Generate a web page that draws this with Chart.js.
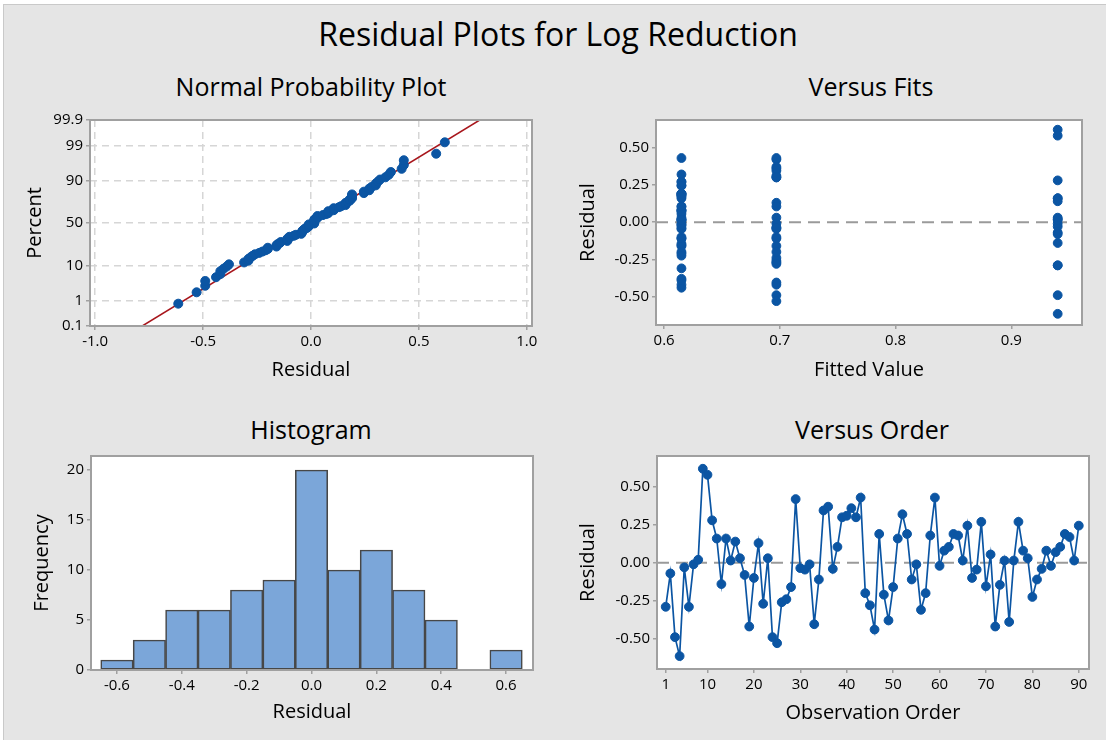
<!DOCTYPE html>
<html>
<head>
<meta charset="utf-8">
<script src="https://cdn.jsdelivr.net/npm/chart.js@4.4.0/dist/chart.umd.min.js"></script>
<style>
  html, body { margin: 0; padding: 0; background: #fff; }
  body { width: 1106px; height: 740px; position: relative; overflow: hidden; font-family: 'Open Sans', sans-serif; }
  #panel { position: absolute; left: 3px; top: 4px; right: 0; bottom: 0; background: #E5E5E5; border-left: 1px solid #c9c9c9; border-top: 1px solid #c9c9c9; }
  .ttl { position: absolute; text-align: center; color: #000; white-space: nowrap; font-weight: 500; }
  .sub { font-size: 25px; line-height: 34px; width: 400px; }
  canvas { position: absolute; }
</style>
</head>
<body>
<div id="panel"></div>
<div class="ttl" style="left:258px; width:600px; top:12px; font-size:32px; line-height:44px;">Residual Plots for Log Reduction</div>
<div class="ttl sub" style="left:111px; top:69px;">Normal Probability Plot</div>
<div class="ttl sub" style="left:671px; top:69px;">Versus Fits</div>
<div class="ttl sub" style="left:111px; top:412px;">Histogram</div>
<div class="ttl sub" style="left:672px; top:412px;">Versus Order</div>

<canvas id="npp" width="553" height="300" style="left:0; top:100px; width:553px; height:300px;"></canvas>
<canvas id="fits" width="553" height="300" style="left:553px; top:100px; width:553px; height:300px;"></canvas>
<canvas id="hist" width="553" height="300" style="left:0; top:440px; width:553px; height:300px;"></canvas>
<canvas id="order" width="553" height="300" style="left:553px; top:440px; width:553px; height:300px;"></canvas>

<script>
// residuals in observation order
const residuals = [
  -0.29, -0.07, -0.49, -0.615, -0.03, -0.29, -0.01, 0.02, 0.62, 0.58,
  0.28, 0.16, -0.14, 0.16, 0.015, 0.14, 0.03, -0.08, -0.42, -0.10,
  0.13, -0.27, 0.03, -0.49, -0.53, -0.26, -0.24, -0.16, 0.42, -0.035,
  -0.045, -0.01, -0.405, -0.11, 0.345, 0.37, -0.04, 0.105, 0.30, 0.31,
  0.36, 0.30, 0.43, -0.20, -0.28, -0.44, 0.19, -0.21, -0.38, -0.16,
  0.16, 0.32, 0.19, -0.11, -0.01, -0.31, -0.20, 0.18, 0.43, -0.02,
  0.08, 0.105, 0.19, 0.18, 0.015, 0.245, -0.10, -0.045, 0.27, -0.155,
  0.055, -0.42, -0.145, 0.015, -0.39, 0.015, 0.27, 0.08, 0.03, -0.225,
  -0.11, -0.04, 0.08, -0.02, 0.07, 0.105, 0.19, 0.17, 0.015, 0.245
];

const fittedValues = [
  0.940, 0.940, 0.940, 0.940, 0.940, 0.940, 0.940, 0.940, 0.940,
  0.940, 0.940, 0.940, 0.940, 0.940, 0.940, 0.940, 0.940, 0.940,
  0.697, 0.697, 0.697, 0.697, 0.697, 0.697, 0.697, 0.697, 0.697,
  0.697, 0.697, 0.697, 0.697, 0.697, 0.697, 0.697, 0.697, 0.697,
  0.697, 0.697, 0.697, 0.697, 0.697, 0.697, 0.697, 0.697, 0.697,
  0.615, 0.615, 0.615, 0.615, 0.615, 0.615, 0.615, 0.615, 0.615,
  0.615, 0.615, 0.615, 0.615, 0.615, 0.615, 0.615, 0.615, 0.615,
  0.615, 0.615, 0.615, 0.615, 0.615, 0.615, 0.615, 0.615, 0.615,
  0.615, 0.615, 0.615, 0.615, 0.615, 0.615, 0.615, 0.615, 0.615,
  0.615, 0.615, 0.615, 0.615, 0.615, 0.615, 0.615, 0.615, 0.615
];

const histBinMids = [-0.6, -0.5, -0.4, -0.3, -0.2, -0.1, 0.0, 0.1, 0.2, 0.3, 0.4, 0.5, 0.6];
const histCounts = [1, 3, 6, 6, 8, 9, 20, 10, 12, 8, 5, 0, 2];

// fitted normal line on the probability plot
const fitLineMean = 0;
const fitLineStDev = 0.253;

const nppPercentTicks = [0.1, 1, 10, 50, 90, 99, 99.9];
const nppPercentLabels = ['0.1', '1', '10', '50', '90', '99', '99.9'];
const nppResidualTicks = [-1.0, -0.5, 0.0, 0.5, 1.0];
const fitTicks = [0.6, 0.7, 0.8, 0.9];
const residualTicks = [-0.5, -0.25, 0, 0.25, 0.5];
const histXTicks = [-0.6, -0.4, -0.2, 0.0, 0.2, 0.4, 0.6];
const histYTicks = [0, 5, 10, 15, 20];
const orderTicks = [1, 10, 20, 30, 40, 50, 60, 70, 80, 90];

const FONT = "'Open Sans'";
const BLUE = '#0B55A3';

// inverse standard normal cdf (Acklam)
function probit(p) {
  const a = [-3.969683028665376e+01, 2.209460984245205e+02, -2.759285104469687e+02, 1.383577518672690e+02, -3.066479806614716e+01, 2.506628277459239e+00];
  const b = [-5.447609879822406e+01, 1.615858368580409e+02, -1.556989798598866e+02, 6.680131188771972e+01, -1.328068155288572e+01];
  const c = [-7.784894002430293e-03, -3.223964580411365e-01, -2.400758277161838e+00, -2.549732539343734e+00, 4.374664141464968e+00, 2.938163982698783e+00];
  const d = [7.784695709041462e-03, 3.224671290700398e-01, 2.445134137142996e+00, 3.754408661907416e+00];
  let q, r;
  if (p < 0.02425) {
    q = Math.sqrt(-2 * Math.log(p));
    return (((((c[0]*q+c[1])*q+c[2])*q+c[3])*q+c[4])*q+c[5]) / ((((d[0]*q+d[1])*q+d[2])*q+d[3])*q+1);
  }
  if (p > 1 - 0.02425) {
    q = Math.sqrt(-2 * Math.log(1 - p));
    return -(((((c[0]*q+c[1])*q+c[2])*q+c[3])*q+c[4])*q+c[5]) / ((((d[0]*q+d[1])*q+d[2])*q+d[3])*q+1);
  }
  q = p - 0.5; r = q * q;
  return (((((a[0]*r+a[1])*r+a[2])*r+a[3])*r+a[4])*r+a[5])*q / (((((b[0]*r+b[1])*r+b[2])*r+b[3])*r+b[4])*r+1);
}

const framePlugin = {
  id: 'frame',
  beforeDraw(chart) {
    const { ctx, chartArea: a } = chart;
    ctx.save();
    ctx.fillStyle = '#fff';
    ctx.fillRect(a.left, a.top, a.width, a.height);
    ctx.restore();
  },
  afterDraw(chart) {
    const { ctx, chartArea: a } = chart;
    ctx.save();
    ctx.strokeStyle = '#A0A0A0';
    ctx.lineWidth = 2;
    ctx.strokeRect(a.left, a.top, a.width, a.height);
    ctx.restore();
  }
};

const zeroLinePlugin = {
  id: 'zeroLine',
  beforeDatasetsDraw(chart) {
    const { ctx, chartArea: a } = chart;
    const y = chart.scales.y.getPixelForValue(0);
    ctx.save();
    ctx.strokeStyle = '#9A9A9A';
    ctx.lineWidth = 2;
    ctx.setLineDash([12, 7]);
    ctx.beginPath();
    ctx.moveTo(a.left, y);
    ctx.lineTo(a.right, y);
    ctx.stroke();
    ctx.restore();
  }
};

function makeAxis(o) {
  return {
    type: 'linear',
    min: o.min,
    max: o.max,
    offset: false,
    afterBuildTicks: s => { s.ticks = o.ticks.map(v => ({ value: v })); },
    afterFit: s => { if (o.horizontal) s.height = o.size; else s.width = o.size; },
    ticks: {
      autoSkip: false, maxRotation: 0, padding: 3, color: '#000',
      font: { family: FONT, size: 15, weight: 500 },
      callback: o.format
    },
    grid: o.grid || { drawOnChartArea: false, offset: false, color: '#A0A0A0', tickLength: 4, lineWidth: 1.5 },
    border: o.border || { display: false },
    title: {
      display: true, text: o.title, color: '#000',
      font: { family: FONT, size: 20, weight: 500 },
      padding: o.horizontal ? { top: 0, bottom: o.titlePad } : { top: o.titlePad, bottom: 0 }
    }
  };
}

const baseOptions = {
  responsive: false,
  animation: false,
  events: [],
  plugins: { legend: { display: false }, tooltip: { enabled: false } }
};

// Normal probability plot
const sorted = residuals.slice().sort((p, q) => p - q);
const n = sorted.length;
const nppPoints = sorted.map((r, i) => ({ x: r, y: probit((i + 1 - 0.3) / (n + 0.4)) }));
const zLow = probit(nppPercentTicks[0] / 100);
const zHigh = probit(nppPercentTicks[nppPercentTicks.length - 1] / 100);
const nppGrid = { drawOnChartArea: true, color: '#D6D6D6', lineWidth: 1.5, tickColor: '#A0A0A0', tickLength: 4, tickWidth: 1.5 };

new Chart(document.getElementById('npp'), {
  type: 'scatter',
  data: {
    datasets: [{
      data: nppPoints,
      pointRadius: 4.5, pointBorderWidth: 1,
      backgroundColor: BLUE, borderColor: BLUE
    }, {
      data: [
        { x: fitLineMean + fitLineStDev * zLow, y: zLow },
        { x: fitLineMean + fitLineStDev * zHigh, y: zHigh }
      ],
      showLine: true, pointRadius: 0,
      borderColor: '#A8161C', borderWidth: 1.5
    }]
  },
  options: {
    ...baseOptions,
    layout: { padding: { top: 20, right: 21, bottom: 0, left: 0 } },
    scales: {
      x: makeAxis({ min: -1.024, max: 1.024, ticks: nppResidualTicks, format: v => v.toFixed(1),
        horizontal: true, size: 74, title: 'Residual', titlePad: 18,
        grid: nppGrid, border: { display: false, dash: [7, 5] } }),
      y: makeAxis({ min: zLow, max: zHigh, ticks: nppPercentTicks.map(p => probit(p / 100)),
        format: (v, i) => nppPercentLabels[i],
        horizontal: false, size: 90, title: 'Percent', titlePad: 23,
        grid: nppGrid, border: { display: false, dash: [7, 5] } })
    }
  },
  plugins: [framePlugin]
});

// Versus fits
new Chart(document.getElementById('fits'), {
  type: 'scatter',
  data: {
    datasets: [{
      data: fittedValues.map((f, i) => ({ x: f, y: residuals[i] })),
      pointRadius: 4.4, pointBorderWidth: 1,
      backgroundColor: BLUE, borderColor: BLUE
    }]
  },
  options: {
    ...baseOptions,
    layout: { padding: { top: 20, right: 24, bottom: 0, left: 0 } },
    scales: {
      x: makeAxis({ min: 0.593, max: 0.961, ticks: fitTicks, format: v => v.toFixed(1),
        horizontal: true, size: 75, title: 'Fitted Value', titlePad: 18 }),
      y: makeAxis({ min: -0.69, max: 0.685, ticks: residualTicks, format: v => v.toFixed(2),
        horizontal: false, size: 103, title: 'Residual', titlePad: 23 })
    }
  },
  plugins: [framePlugin, zeroLinePlugin]
});

// Histogram
new Chart(document.getElementById('hist'), {
  type: 'bar',
  data: {
    datasets: [{
      data: histBinMids.map((m, i) => ({ x: m, y: histCounts[i] })),
      backgroundColor: '#7BA6D9',
      borderColor: '#474747',
      borderWidth: 1.6,
      borderSkipped: false,
      barPercentage: 1,
      categoryPercentage: 1
    }]
  },
  options: {
    ...baseOptions,
    layout: { padding: { top: 16, right: 20, bottom: 0, left: 0 } },
    scales: {
      x: makeAxis({ min: -0.68, max: 0.683, ticks: histXTicks, format: v => v.toFixed(1),
        horizontal: true, size: 70, title: 'Residual', titlePad: 16 }),
      y: makeAxis({ min: 0, max: 21.4, ticks: histYTicks, format: v => String(v),
        horizontal: false, size: 91, title: 'Frequency', titlePad: 30 })
    }
  },
  plugins: [framePlugin]
});

// Versus order
new Chart(document.getElementById('order'), {
  type: 'scatter',
  data: {
    datasets: [{
      data: residuals.map((r, i) => ({ x: i + 1, y: r })),
      showLine: true,
      borderColor: BLUE, borderWidth: 1.7,
      pointRadius: 4.4, pointBorderWidth: 1,
      pointBackgroundColor: BLUE, pointBorderColor: BLUE
    }]
  },
  options: {
    ...baseOptions,
    layout: { padding: { top: 16, right: 17, bottom: 0, left: 0 } },
    scales: {
      x: makeAxis({ min: -0.875, max: 92.2, ticks: orderTicks, format: v => String(v),
        horizontal: true, size: 71, title: 'Observation Order', titlePad: 15 }),
      y: makeAxis({ min: -0.70, max: 0.704, ticks: residualTicks, format: v => v.toFixed(2),
        horizontal: false, size: 104, title: 'Residual', titlePad: 23 })
    }
  },
  plugins: [framePlugin, zeroLinePlugin]
});
</script>
</body>
</html>
